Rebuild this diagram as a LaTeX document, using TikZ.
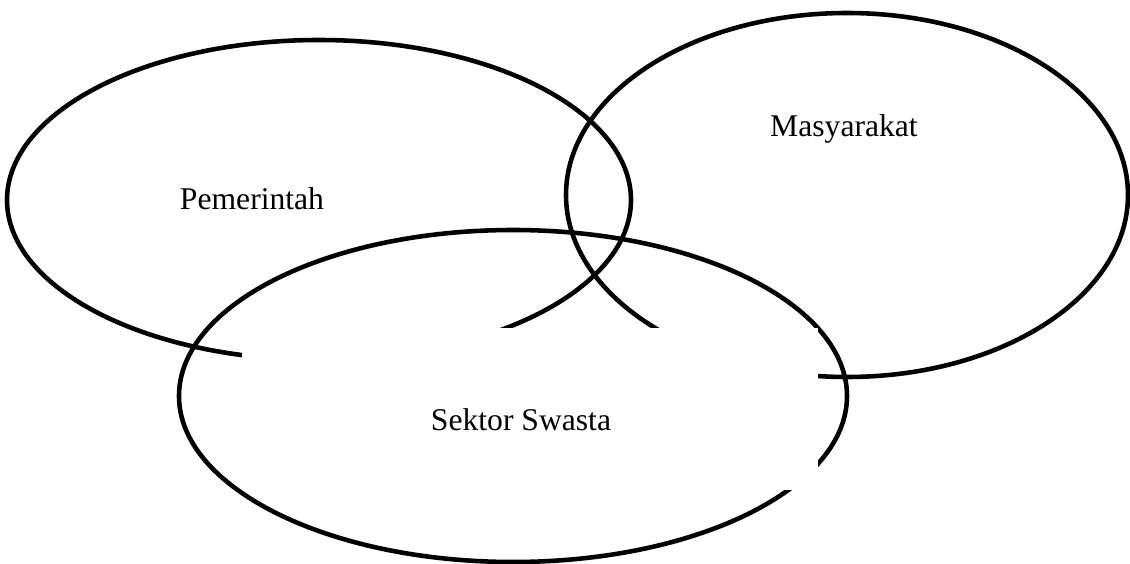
\documentclass[tikz,border=0pt]{standalone}
\usepackage{fontspec}
\setmainfont{Liberation Serif}

\begin{document}
\begin{tikzpicture} [
    x=0.02cm, y=-0.02cm,
    line width=2.6pt,
    every node/.append style={anchor=base, font=\fontsize{18}{22}\selectfont},
    sector/.style={draw=black},
    textbox/.style={fill=white, draw=none}
  ]

  \useasboundingbox (0,0) rectangle (1130,564);

  \draw [sector] (319,200) ellipse [x radius=312, y radius=160];
  \draw [sector] (847,195) ellipse [x radius=281, y radius=182];
  \draw [sector] (513,396) ellipse [x radius=334, y radius=166];

  % white box of the lower label, lying over the rings
  \path [textbox] (242,328) rectangle (818,490);

  \node (pemerintah) at (252,210) {Pemerintah};
  \node (masyarakat) at (844,137) {Masyarakat};
  \node (swasta) at (521,431) {Sektor Swasta};
\end{tikzpicture}
\end{document}
